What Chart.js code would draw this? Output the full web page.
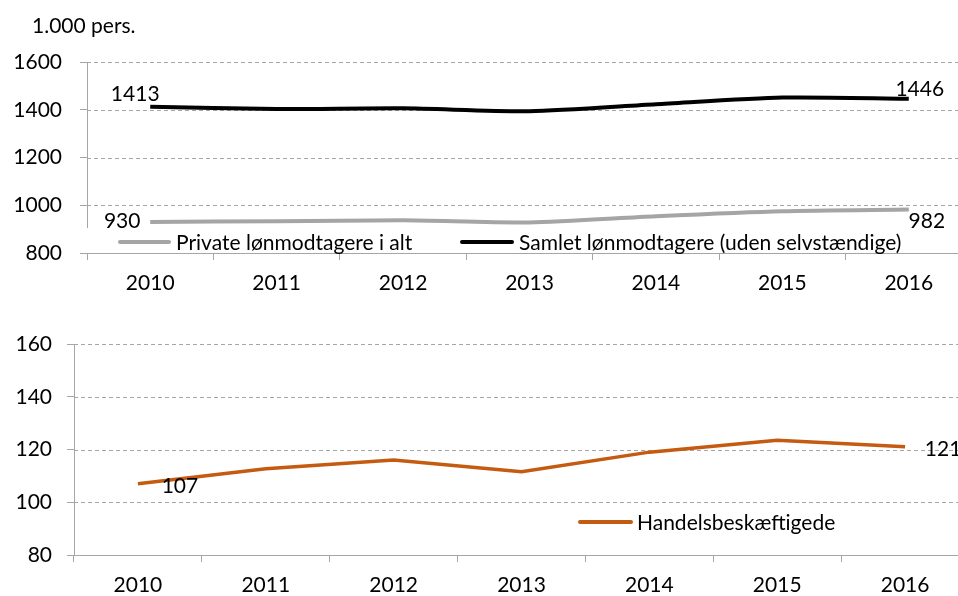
<!DOCTYPE html>
<html>
<head>
<meta charset="utf-8">
<script src="https://cdn.jsdelivr.net/npm/chart.js@4"></script>
<style>
  html, body { margin: 0; padding: 0; background: #fff; }
  body { width: 958px; height: 596px; overflow: hidden; position: relative; font-family: Lato, sans-serif; color: #000; }
  .box { position: absolute; left: 0; width: 980px; }
  #topBox { top: 0; height: 300px; }
  #botBox { top: 300px; height: 296px; }
  .unit { position: absolute; left: 32px; top: 13px; font-size: 21px; line-height: 24px; }
  .legend { position: absolute; background: #fff; font-size: 21px; }
  .legend .sw { position: absolute; height: 4px; border-radius: 2px; }
  .legend .tx { position: absolute; white-space: nowrap; line-height: 24px; }
</style>
</head>
<body>
<div class="box" id="topBox"><canvas id="topChart"></canvas></div>
<div class="box" id="botBox"><canvas id="botChart"></canvas></div>
<div class="unit">1.000 pers.</div>
<div class="legend" id="topLegend" style="left:86px;top:228px;width:859px;height:25px;"></div>
<div class="legend" id="botLegend" style="left:570px;top:508px;width:300px;height:26px;background:transparent;"></div>
<script>
const years = ['2010', '2011', '2012', '2013', '2014', '2015', '2016'];
const privateVals = [930, 933, 937, 928, 954, 975, 982];
const samletVals = [1413, 1403, 1406, 1394, 1423, 1451, 1446];
const handelVals = [107, 112.7, 116, 111.6, 119, 123.5, 121];

const topRange = { min: 800, max: 1600, step: 200 };
const botRange = { min: 80, max: 160, step: 20 };

const axisGrey = '#a6a6a6';
const FONT = { family: 'Lato', size: 21 };

Chart.defaults.font.family = 'Lato';
Chart.defaults.font.size = 21;
Chart.defaults.color = '#000';

// dashed horizontal gridlines at the y ticks, under the lines
const dashedGrid = {
  id: 'dashedGrid',
  beforeDatasetsDraw(chart) {
    const { ctx, chartArea } = chart;
    const y = chart.scales.y;
    ctx.save();
    ctx.strokeStyle = axisGrey;
    ctx.lineWidth = 1;
    ctx.setLineDash([4, 3]);
    y.ticks.forEach(t => {
      const py = Math.round(y.getPixelForValue(t.value)) + 0.5;
      ctx.beginPath();
      ctx.moveTo(chartArea.left, py);
      ctx.lineTo(chartArea.right, py);
      ctx.stroke();
    });
    ctx.restore();
  }
};

// value labels next to chosen points, offset from the point's pixel position
const valueLabels = {
  id: 'valueLabels',
  afterDatasetsDraw(chart) {
    const ctx = chart.ctx;
    chart.data.datasets.forEach((ds, di) => {
      const meta = chart.getDatasetMeta(di);
      (ds.valueLabels || []).forEach(vl => {
        const pt = meta.data[vl.index];
        ctx.save();
        ctx.font = '21px Lato';
        ctx.fillStyle = '#000';
        ctx.textAlign = 'center';
        ctx.textBaseline = 'middle';
        ctx.fillText(String(Math.round(ds.data[vl.index])), pt.x + vl.dx, pt.y + vl.dy);
        ctx.restore();
      });
    });
  }
};

function makeOptions(range, yWidth, xHeight, yPad, pad) {
  return {
    responsive: true,
    maintainAspectRatio: false,
    animation: false,
    devicePixelRatio: 1,
    layout: { padding: pad },
    plugins: { legend: { display: false }, tooltip: { enabled: false } },
    elements: { point: { radius: 0 } },
    scales: {
      x: {
        offset: true,
        grid: { offset: true, drawOnChartArea: false, drawTicks: true, tickLength: 7, color: axisGrey },
        border: { color: axisGrey },
        ticks: { padding: 11, font: FONT, maxRotation: 0 },
        afterFit(scale) { scale.height = xHeight; }
      },
      y: {
        min: range.min,
        max: range.max,
        grid: { drawOnChartArea: false, tickLength: 7, tickColor: axisGrey, color: axisGrey },
        border: { color: axisGrey },
        ticks: { stepSize: range.step, padding: yPad, font: FONT, callback: v => String(v) },
        afterFit(scale) { scale.width = yWidth; }
      }
    }
  };
}

const topChart = new Chart(document.getElementById('topChart'), {
  type: 'line',
  data: {
    labels: years,
    datasets: [
      {
        label: 'Private lønmodtagere i alt',
        data: privateVals,
        borderColor: '#a5a5a5',
        borderWidth: 4,
        tension: 0.25,
        valueLabels: [{ index: 0, dx: -28, dy: -1 }, { index: 6, dx: 18, dy: 12 }]
      },
      {
        label: 'Samlet lønmodtagere (uden selvstændige)',
        data: samletVals,
        borderColor: '#000000',
        borderWidth: 4,
        tension: 0.25,
        valueLabels: [{ index: 0, dx: -15, dy: -12 }, { index: 6, dx: 11, dy: -10 }]
      }
    ]
  },
  options: makeOptions(topRange, 87, 47, 18, { top: 62, right: 8, left: 0, bottom: 0 }),
  plugins: [dashedGrid, valueLabels]
});

const botChart = new Chart(document.getElementById('botChart'), {
  type: 'line',
  data: {
    labels: years,
    datasets: [
      {
        label: 'Handelsbeskæftigede',
        data: handelVals,
        borderColor: '#c55a11',
        borderWidth: 3.5,
        tension: 0,
        valueLabels: [{ index: 0, dx: 42, dy: 2 }, { index: 6, dx: 38, dy: 2 }]
      }
    ]
  },
  options: makeOptions(botRange, 74, 41, 15, { top: 44, right: 11, left: 0, bottom: 0 }),
  plugins: [dashedGrid, valueLabels]
});

// HTML legends built from the dataset labels and colours
function buildLegend(el, chart, places) {
  chart.data.datasets.forEach((ds, i) => {
    const p = places[i];
    const sw = document.createElement('div');
    sw.className = 'sw';
    sw.style.left = p.sw + 'px';
    sw.style.width = p.w + 'px';
    sw.style.top = (p.y - 2) + 'px';
    sw.style.background = ds.borderColor;
    el.appendChild(sw);
    const tx = document.createElement('div');
    tx.className = 'tx';
    tx.style.left = p.tx + 'px';
    tx.style.top = (p.y - 12) + 'px';
    tx.textContent = ds.label;
    el.appendChild(tx);
  });
}
buildLegend(document.getElementById('topLegend'), topChart, [
  { sw: 32, w: 53, tx: 90, y: 14 },
  { sw: 374, w: 54, tx: 433, y: 14 }
]);
buildLegend(document.getElementById('botLegend'), botChart, [
  { sw: 8, w: 55, tx: 67, y: 14 }
]);
</script>
</body>
</html>
